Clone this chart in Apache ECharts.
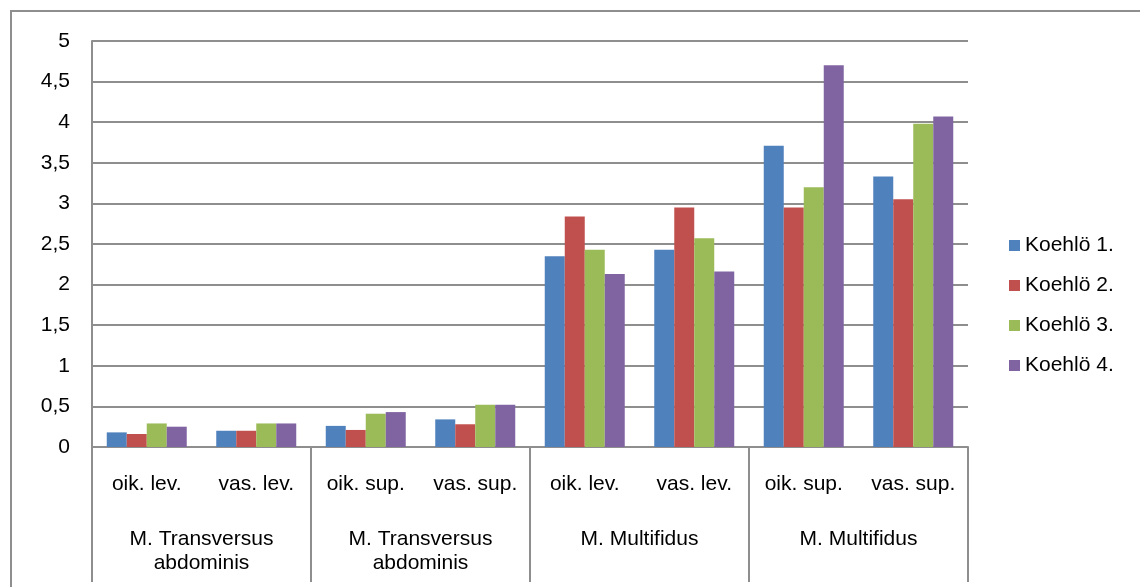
<!DOCTYPE html>
<html>
<head>
<meta charset="utf-8">
<script src="https://cdn.jsdelivr.net/npm/echarts@6/dist/echarts.min.js"></script>
<style>
  html, body { margin: 0; padding: 0; background: #fff; }
  #chart { width: 1140px; height: 587px; }
</style>
</head>
<body>
<div id="chart"></div>
<script>
// Sides / measurement sites (inner axis row)
const sites = ['oik. lev.', 'vas. lev.', 'oik. sup.', 'vas. sup.',
               'oik. lev.', 'vas. lev.', 'oik. sup.', 'vas. sup.'];
// Muscle groups (outer axis row), each covering two sites
const muscles = ['M. Transversus\nabdominis', 'M. Transversus\nabdominis',
                 'M. Multifidus', 'M. Multifidus'];
// Subjects
const subjects = ['Koehlö 1.', 'Koehlö 2.', 'Koehlö 3.', 'Koehlö 4.'];
// Values per subject, in site order
const koehlo1 = [0.18, 0.20, 0.26, 0.34, 2.35, 2.43, 3.71, 3.33];
const koehlo2 = [0.16, 0.20, 0.21, 0.28, 2.84, 2.95, 2.95, 3.05];
const koehlo3 = [0.29, 0.29, 0.41, 0.52, 2.43, 2.57, 3.20, 3.98];
const koehlo4 = [0.25, 0.29, 0.43, 0.52, 2.13, 2.16, 4.70, 4.07];
// Value-axis ticks
const yMin = 0, yMax = 5, yStep = 0.5;

const colors = ['#4F81BD', '#C0504D', '#9BBB59', '#8064A2'];
const seriesValues = [koehlo1, koehlo2, koehlo3, koehlo4];
const lineGray = '#8e8e8e';
const font = 'Liberation Sans, Arial, sans-serif';
const fs = 21;

const chart = echarts.init(document.getElementById('chart'), null, { renderer: 'canvas' });

chart.setOption({
  animation: false,
  backgroundColor: '#fff',
  textStyle: { fontFamily: font, color: '#000' },
  graphic: [{
    type: 'rect',
    shape: { x: 11, y: 11, width: 1200, height: 700 },
    style: { fill: 'none', stroke: lineGray, lineWidth: 2 },
    silent: true,
    z: -1
  }],
  grid: { left: 92, top: 41, right: 172, bottom: 140, containLabel: false },
  legend: {
    orient: 'vertical',
    left: 1009,
    top: 235,
    padding: 0,
    itemWidth: 11,
    itemHeight: 11,
    itemGap: 19,
    icon: 'rect',
    textStyle: { fontFamily: font, fontSize: fs, color: '#000' },
    data: subjects
  },
  xAxis: [{
    type: 'category',
    data: sites,
    position: 'bottom',
    axisLine: { show: true, lineStyle: { color: lineGray, width: 2 } },
    axisTick: { show: false },
    axisLabel: { fontFamily: font, fontSize: fs, color: '#000', margin: 27, interval: 0 },
    splitLine: { show: false }
  }, {
    type: 'category',
    data: muscles,
    position: 'bottom',
    axisLine: { show: false },
    axisTick: { show: true, length: 135, lineStyle: { color: lineGray, width: 2 } },
    axisLabel: { fontFamily: font, fontSize: fs, color: '#000', margin: 80, interval: 0,
                 lineHeight: 24, align: 'center' },
    splitLine: { show: false }
  }],
  yAxis: {
    type: 'value',
    min: yMin,
    max: yMax,
    interval: yStep,
    axisLine: { show: true, lineStyle: { color: lineGray, width: 2 } },
    axisTick: { show: false },
    axisLabel: {
      fontFamily: font, fontSize: fs, color: '#000', margin: 22,
      formatter: v => String(v).replace('.', ',')
    },
    splitLine: { show: true, lineStyle: { color: lineGray, width: 2 } }
  },
  series: subjects.map((name, i) => ({
    name,
    type: 'bar',
    xAxisIndex: 0,
    barWidth: 20,
    barGap: '0%',
    itemStyle: { color: colors[i] },
    data: seriesValues[i]
  }))
});
</script>
</body>
</html>
